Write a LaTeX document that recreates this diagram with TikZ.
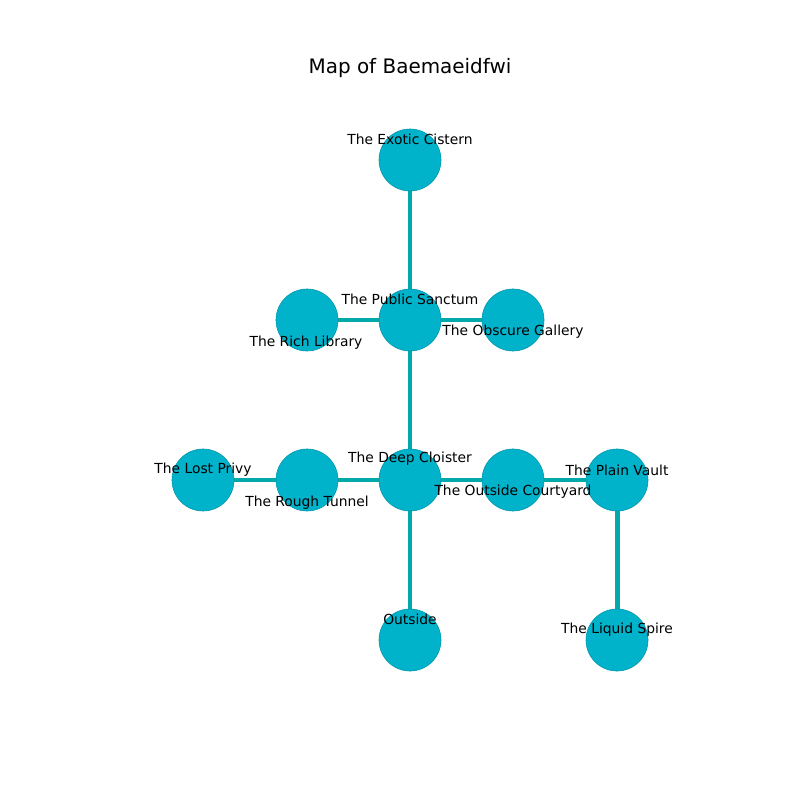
\documentclass[tikz,border=0pt]{standalone}
\usepackage{fontspec}
\setmainfont{DejaVu Sans}
\usetikzlibrary{backgrounds}
\definecolor{nodefill}{RGB}{0,178,202}
\definecolor{nodeedge}{RGB}{0,150,170}
\definecolor{edgecol}{RGB}{0,170,170}
\tikzset{
  room/.style={circle, fill=nodefill, draw=nodeedge, line width=0.4pt, minimum size=0.62in, inner sep=0pt},
  link/.style={draw=edgecol, line width=3.6pt},
  lab/.style={font=\fontsize{10}{12}\selectfont, inner sep=0pt, text=black, yshift=-1.4pt},
}
\begin{document}
\begin{tikzpicture}[x=0.01in, y=-0.01in]
\useasboundingbox (0,0) rectangle (800,800);
\node[font=\fontsize{14.4}{17}\selectfont, inner sep=0pt] (title) at (410,68) {Map of Baemaeidfwi};
% nodes
\node[room] (ec) at (410,160) {};
\node[room] (ps) at (410,320) {};
\node[room] (rl) at (307,320) {};
\node[room] (og) at (513,320) {};
\node[room] (dc) at (410,480) {};
\node[room] (rt) at (307,480) {};
\node[room] (lp) at (203,480) {};
\node[room] (oc) at (513,480) {};
\node[room] (pv) at (617,480) {};
\node[room] (out) at (410,640) {};
\node[room] (ls) at (617,640) {};
% edges behind nodes
\begin{scope}[on background layer]
\fill[white] (0,0) rectangle (800,800);
\draw[link] (ec.center) -- (ps.center);
\draw[link] (ps.center) -- (rl.center);
\draw[link] (ps.center) -- (og.center);
\draw[link] (ps.center) -- (dc.center);
\draw[link] (dc.center) -- (rt.center);
\draw[link] (rt.center) -- (lp.center);
\draw[link] (dc.center) -- (oc.center);
\draw[link] (oc.center) -- (pv.center);
\draw[link] (dc.center) -- (out.center);
\draw[link] (pv.center) -- (ls.center);
\end{scope}
% labels
\node[lab] (tec) at (410,137) {The Exotic Cistern};
\node[lab] (tps) at (410,297) {The Public Sanctum};
\node[lab] (trl) at (306,341) {The Rich Library};
\node[lab] (tog) at (513,330) {The Obscure Gallery};
\node[lab] (tdc) at (410,457) {The Deep Cloister};
\node[lab] (trt) at (307,501) {The Rough Tunnel};
\node[lab] (tlp) at (203,468) {The Lost Privy};
\node[lab] (toc) at (513,490) {The Outside Courtyard};
\node[lab] (tpv) at (617,468) {The Plain Vault};
\node[lab] (tout) at (410,617) {Outside};
\node[lab] (tls) at (617,628) {The Liquid Spire};
\end{tikzpicture}
\end{document}
